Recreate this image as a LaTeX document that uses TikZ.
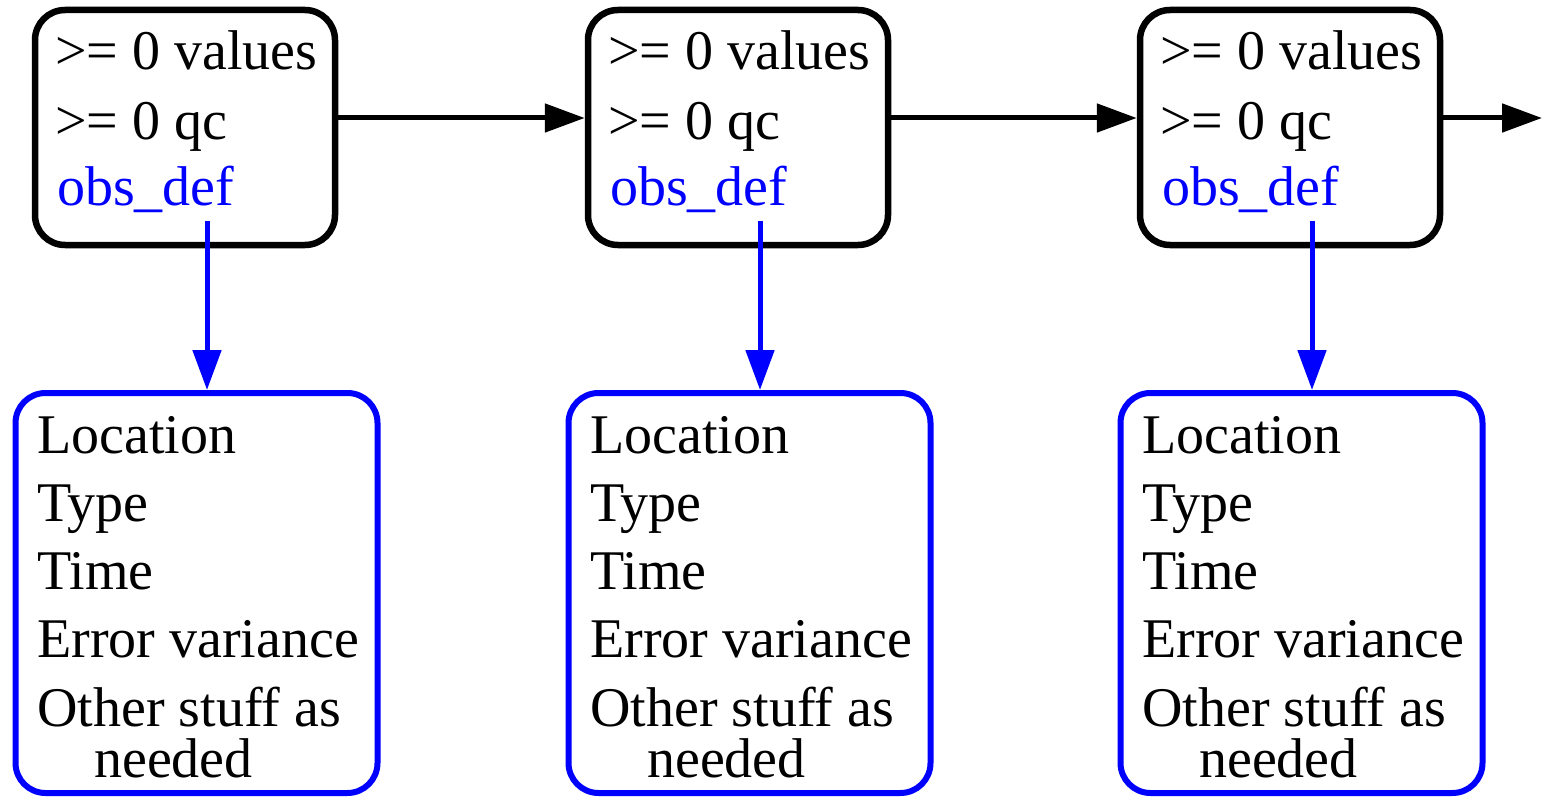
\documentclass[tikz,border=0pt]{standalone}
\usepackage{fontspec}
\setmainfont{Liberation Serif}
\usetikzlibrary{arrows.meta}
\definecolor{pblue}{RGB}{0,0,255}
\begin{document}
\begin{tikzpicture}[x=1pt,y=-1pt,
  topbox/.style={draw=black,line width=6.5pt,rounded corners=30pt,minimum width=300pt,minimum height=235pt,inner sep=0pt},
  botbox/.style={draw=pblue,line width=6pt,rounded corners=30pt,minimum width=362pt,minimum height=400pt,inner sep=0pt},
  txt/.style={anchor=base west,inner sep=0pt,font=\fontsize{56}{68}\selectfont},
  blk/.style={line width=5pt,-{Triangle[length=40pt,width=28pt]}},
  blu/.style={draw=pblue,line width=5pt,-{Triangle[length=40pt,width=28pt]}}]
\useasboundingbox (0,0) rectangle (1542,797);
\foreach \i/\dx in {1/0,2/553,3/1105}{
  \node[topbox] (t\i) at (185+\dx,127.5) {};
  \node[botbox] (b\i) at (196.5+\dx,593) {};
  \node[txt] (tv\i) at (55+\dx,70) {>= 0 values};
  \node[txt] (tq\i) at (55+\dx,140) {>= 0 qc};
  \node[txt,text=pblue] (to\i) at (57+\dx,205) {obs\_def};
  \node[txt] (bl\i) at (37+\dx,453) {Location};
  \node[txt] (bt\i) at (37+\dx,521) {Type};
  \node[txt] (bm\i) at (37+\dx,589) {Time};
  \node[txt] (be\i) at (37+\dx,657) {Error variance};
  \node[txt] (bo\i) at (37+\dx,726) {Other stuff as};
  \node[txt] (bn\i) at (94+\dx,777) {needed};
  \coordinate (s\i) at (207+\dx,221);
  \draw[blu] (s\i) -- (s\i |- b\i.north);
}
\coordinate (end) at (1542,118);
\draw[blk] ([yshift=9.5pt]t1.east) -- ([yshift=9.5pt]t2.west);
\draw[blk] ([yshift=9.5pt]t2.east) -- ([yshift=9.5pt]t3.west);
\draw[blk] ([yshift=9.5pt]t3.east) -- (end);
\end{tikzpicture}
\end{document}
